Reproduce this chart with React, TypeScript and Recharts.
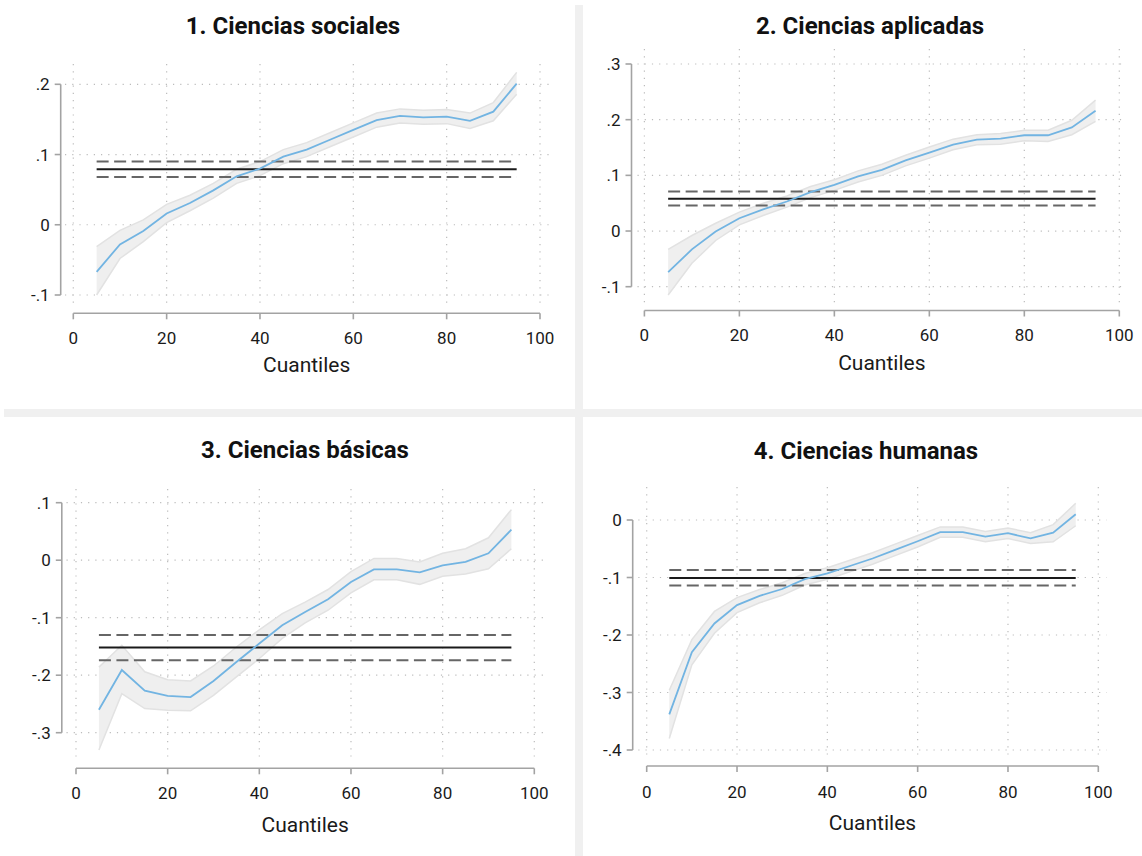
import React from "react";
import { ComposedChart, Area, Line, XAxis, YAxis, CartesianGrid, ReferenceLine } from "recharts";

// ---------- data ----------
const quantiles = [5, 10, 15, 20, 25, 30, 35, 40, 45, 50, 55, 60, 65, 70, 75, 80, 85, 90, 95];
const xTicks = [0, 20, 40, 60, 80, 100];
const xTickLabels = ["0", "20", "40", "60", "80", "100"];
const xAxisTitle = "Cuantiles";

// 1. Ciencias sociales
const socialesTitle = "1. Ciencias sociales";
const socialesEst = [-0.067, -0.028, -0.009, 0.016, 0.031, 0.049, 0.069, 0.080, 0.097, 0.107, 0.121, 0.135, 0.149, 0.155, 0.153, 0.154, 0.148, 0.161, 0.201];
const socialesLo = [-0.100, -0.048, -0.024, 0.003, 0.020, 0.038, 0.059, 0.070, 0.087, 0.097, 0.111, 0.125, 0.139, 0.145, 0.143, 0.144, 0.137, 0.148, 0.186];
const socialesHi = [-0.031, -0.008, 0.007, 0.029, 0.042, 0.059, 0.079, 0.090, 0.107, 0.117, 0.131, 0.145, 0.159, 0.165, 0.163, 0.164, 0.159, 0.174, 0.217];
const socialesRef = [0.068, 0.079, 0.090];
const socialesYTicks = [-0.1, 0, 0.1, 0.2];
const socialesYLabels = ["-.1", "0", ".1", ".2"];

// 2. Ciencias aplicadas
const aplicadasTitle = "2. Ciencias aplicadas";
const aplicadasEst = [-0.074, -0.033, -0.001, 0.023, 0.039, 0.053, 0.070, 0.083, 0.098, 0.110, 0.127, 0.141, 0.155, 0.164, 0.166, 0.172, 0.172, 0.186, 0.216];
const aplicadasLo = [-0.115, -0.058, -0.017, 0.011, 0.028, 0.043, 0.060, 0.073, 0.088, 0.100, 0.117, 0.131, 0.146, 0.155, 0.156, 0.162, 0.161, 0.173, 0.197];
const aplicadasHi = [-0.033, -0.008, 0.014, 0.034, 0.050, 0.063, 0.080, 0.092, 0.108, 0.120, 0.136, 0.151, 0.165, 0.173, 0.175, 0.181, 0.181, 0.199, 0.235];
const aplicadasRef = [0.046, 0.058, 0.071];
const aplicadasYTicks = [-0.1, 0, 0.1, 0.2, 0.3];
const aplicadasYLabels = ["-.1", "0", ".1", ".2", ".3"];

// 3. Ciencias básicas
const basicasTitle = "3. Ciencias básicas";
const basicasEst = [-0.260, -0.191, -0.227, -0.236, -0.238, -0.210, -0.177, -0.145, -0.113, -0.090, -0.068, -0.038, -0.016, -0.016, -0.021, -0.009, -0.003, 0.012, 0.053];
const basicasLo = [-0.330, -0.232, -0.258, -0.261, -0.262, -0.235, -0.203, -0.171, -0.136, -0.109, -0.087, -0.057, -0.034, -0.034, -0.042, -0.028, -0.024, -0.015, 0.020];
const basicasHi = [-0.186, -0.148, -0.194, -0.208, -0.210, -0.184, -0.151, -0.121, -0.093, -0.073, -0.051, -0.020, 0.003, 0.003, -0.003, 0.012, 0.020, 0.039, 0.088];
const basicasRef = [-0.174, -0.152, -0.130];
const basicasYTicks = [-0.3, -0.2, -0.1, 0, 0.1];
const basicasYLabels = ["-.3", "-.2", "-.1", "0", ".1"];

// 4. Ciencias humanas
const humanasTitle = "4. Ciencias humanas";
const humanasEst = [-0.338, -0.230, -0.180, -0.148, -0.132, -0.120, -0.103, -0.093, -0.080, -0.067, -0.052, -0.037, -0.021, -0.021, -0.029, -0.023, -0.032, -0.022, 0.010];
const humanasLo = [-0.380, -0.252, -0.197, -0.161, -0.144, -0.131, -0.113, -0.103, -0.090, -0.077, -0.062, -0.047, -0.030, -0.030, -0.038, -0.032, -0.041, -0.038, -0.010];
const humanasHi = [-0.296, -0.208, -0.159, -0.135, -0.121, -0.109, -0.093, -0.083, -0.070, -0.057, -0.042, -0.027, -0.012, -0.012, -0.020, -0.014, -0.022, -0.008, 0.029];
const humanasRef = [-0.114, -0.101, -0.087];
const humanasYTicks = [-0.4, -0.3, -0.2, -0.1, 0];
const humanasYLabels = ["-.4", "-.3", "-.2", "-.1", "0"];

// ---------- layout ----------
const W = 1142;
const H = 856;
const FONT = "Roboto, 'Liberation Sans', Arial, sans-serif";
const AXIS_COLOR = "#a3a3a3";
const TEXT_COLOR = "#1a1a1a";
const AX = 1; // tiny axis thickness so the axes are still rendered

type Layout = {
  x0: number; x100: number;
  gridLeft: number; gridRight: number; gridTop: number; gridBottom: number;
  yTopVal: number; yTopPx: number; yBotVal: number; yBotPx: number;
  yAxisX: number; xAxisY: number; xLabelY: number; xTitleY: number;
  titleX: number; titleY: number;
};

const layout1: Layout = {
  x0: 73.3, x100: 540, gridLeft: 65, gridRight: 550, gridTop: 64, gridBottom: 307,
  yTopVal: 0.2, yTopPx: 84.3, yBotVal: -0.1, yBotPx: 295,
  yAxisX: 60.7, xAxisY: 313.3, xLabelY: 337.5, xTitleY: 365, titleX: 293, titleY: 26,
};
const layout2: Layout = {
  x0: 644.4, x100: 1119.3, gridLeft: 637.5, gridRight: 1127, gridTop: 49, gridBottom: 303,
  yTopVal: 0.3, yTopPx: 64, yBotVal: -0.1, yBotPx: 286.7,
  yAxisX: 631.5, xAxisY: 310.5, xLabelY: 335, xTitleY: 363, titleX: 870, titleY: 26,
};
const layout3: Layout = {
  x0: 76, x100: 534.3, gridLeft: 66.5, gridRight: 543, gridTop: 489, gridBottom: 757,
  yTopVal: 0.1, yTopPx: 502.7, yBotVal: -0.3, yBotPx: 732.7,
  yAxisX: 61.8, xAxisY: 768.3, xLabelY: 793.3, xTitleY: 825, titleX: 305, titleY: 450,
};
const layout4: Layout = {
  x0: 646.7, x100: 1098.3, gridLeft: 638.3, gridRight: 1106.7, gridTop: 487, gridBottom: 758,
  yTopVal: 0, yTopPx: 520, yBotVal: -0.4, yBotPx: 750,
  yAxisX: 632.7, xAxisY: 766, xLabelY: 791.7, xTitleY: 823.3, titleX: 866, titleY: 451,
};

type PanelProps = {
  title: string; est: number[]; lo: number[]; hi: number[]; refs: number[];
  yTicks: number[]; yLabels: string[]; L: Layout;
};

// apply an axis scale whatever its shape (function, or object with map/apply)
function applyScale(s: any, v: number): number | null {
  if (!s) return null;
  if (typeof s === "function") return s(v);
  if (typeof s.map === "function") return s.map(v);
  if (typeof s.apply === "function") return s.apply(v);
  return null;
}

function Panel({ title, est, lo, hi, refs, yTicks, yLabels, L }: PanelProps) {
  const data = quantiles.map((q, i) => ({ q, est: est[i], band: [lo[i], hi[i]] }));
  const ppx = (L.x100 - L.x0) / 100;
  const xDomain = [(L.gridLeft - L.x0) / ppx, (L.gridRight - L.x0) / ppx];
  const ppy = (L.yBotPx - L.yTopPx) / (L.yTopVal - L.yBotVal);
  const yDomain = [L.yBotVal - (L.gridBottom - L.yBotPx) / ppy, L.yTopVal + (L.yTopPx - L.gridTop) / ppy];
  const yAxisXVal = (L.yAxisX - L.x0) / ppx;
  const xAxisYVal = L.yBotVal - (L.xAxisY - L.yBotPx) / ppy;

  const renderXTick = (p: any) => {
    const idx = xTicks.indexOf(p.payload.value);
    return (
      <g>
        <line x1={p.x} x2={p.x} y1={L.xAxisY} y2={L.xAxisY + 6} stroke={AXIS_COLOR} strokeWidth={1.6} />
        <text x={p.x} y={L.xLabelY} textAnchor="middle" dominantBaseline="central" fontSize={17} fontFamily={FONT} fill={TEXT_COLOR}>
          {xTickLabels[idx]}
        </text>
      </g>
    );
  };
  const renderYTick = (p: any) => {
    const idx = yTicks.indexOf(p.payload.value);
    return (
      <g>
        <line x1={L.yAxisX - 6} x2={L.yAxisX} y1={p.y} y2={p.y} stroke={AXIS_COLOR} strokeWidth={1.6} />
        <text x={L.yAxisX - 11} y={p.y} textAnchor="end" dominantBaseline="central" fontSize={17} fontFamily={FONT} fill={TEXT_COLOR}>
          {yLabels[idx]}
        </text>
      </g>
    );
  };

  // grid only at the tick values (no border lines), positions from the axis scale
  const hGen = (args: any) => {
    const off = args && args.offset;
    return yTicks
      .map((t) => {
        const v = applyScale(args && args.yAxis && args.yAxis.scale, t);
        if (v != null && !isNaN(v)) return v;
        return off ? off.top + ((yDomain[1] - t) / (yDomain[1] - yDomain[0])) * off.height : NaN;
      })
      .filter((v) => !isNaN(v));
  };
  const vGen = (args: any) => {
    const off = args && args.offset;
    return xTicks
      .map((t) => {
        const v = applyScale(args && args.xAxis && args.xAxis.scale, t);
        if (v != null && !isNaN(v)) return v;
        return off ? off.left + ((t - xDomain[0]) / (xDomain[1] - xDomain[0])) * off.width : NaN;
      })
      .filter((v) => !isNaN(v));
  };

  return (
    <>
      <div style={{ position: "absolute", left: 0, top: 0 }}>
        <ComposedChart
          width={W}
          height={H}
          data={data}
          margin={{ left: L.gridLeft - AX, right: W - L.gridRight, top: L.gridTop, bottom: H - L.gridBottom - AX }}
        >
          <CartesianGrid
            stroke="#bcbcbc" strokeWidth={1.2} strokeDasharray="1.2 6"
            horizontalCoordinatesGenerator={hGen} verticalCoordinatesGenerator={vGen}
          />
          <XAxis
            type="number" dataKey="q" domain={xDomain} allowDataOverflow ticks={xTicks} interval={0}
            height={AX} tickSize={0} tickMargin={0} axisLine={false} tickLine={false} tick={renderXTick}
          />
          <YAxis
            type="number" domain={yDomain} allowDataOverflow ticks={yTicks} interval={0}
            width={AX} tickSize={0} tickMargin={0} axisLine={false} tickLine={false} tick={renderYTick}
          />
          <Area
            type="linear" dataKey="band" fill="#efefef" fillOpacity={1} stroke="#e2e2e2" strokeWidth={1.5}
            isAnimationActive={false} activeDot={false}
          />
          <ReferenceLine segment={[{ x: quantiles[0], y: refs[0] }, { x: quantiles[quantiles.length - 1], y: refs[0] }]} stroke="#666666" strokeWidth={2} strokeDasharray="12 5.5" ifOverflow="visible" />
          <ReferenceLine segment={[{ x: quantiles[0], y: refs[2] }, { x: quantiles[quantiles.length - 1], y: refs[2] }]} stroke="#666666" strokeWidth={2} strokeDasharray="12 5.5" ifOverflow="visible" />
          <ReferenceLine segment={[{ x: quantiles[0], y: refs[1] }, { x: quantiles[quantiles.length - 1], y: refs[1] }]} stroke="#1a1a1a" strokeWidth={2} ifOverflow="visible" />
          <Line type="linear" dataKey="est" stroke="#72b4e2" strokeWidth={1.8} dot={false} activeDot={false} isAnimationActive={false} />
          <ReferenceLine segment={[{ x: yAxisXVal, y: yTicks[0] }, { x: yAxisXVal, y: yTicks[yTicks.length - 1] }]} stroke={AXIS_COLOR} strokeWidth={1.6} ifOverflow="visible" />
          <ReferenceLine segment={[{ x: xTicks[0], y: xAxisYVal }, { x: xTicks[xTicks.length - 1], y: xAxisYVal }]} stroke={AXIS_COLOR} strokeWidth={1.6} ifOverflow="visible" />
        </ComposedChart>
      </div>
      <div style={{ position: "absolute", left: L.titleX, top: L.titleY, transform: "translate(-50%, -50%)", whiteSpace: "nowrap", fontFamily: FONT, fontWeight: 700, fontSize: 24, color: "#111", lineHeight: 1 }}>
        {title}
      </div>
      <div style={{ position: "absolute", left: (L.x0 + L.x100) / 2, top: L.xTitleY, transform: "translate(-50%, -50%)", whiteSpace: "nowrap", fontFamily: FONT, fontSize: 21, color: TEXT_COLOR, lineHeight: 1 }}>
        {xAxisTitle}
      </div>
    </>
  );
}

export default function App() {
  return (
    <div style={{ position: "absolute", left: 0, top: 0, width: W, height: H, background: "#ffffff", overflow: "hidden" }}>
      <div style={{ position: "absolute", left: 575, top: 5, width: 8, height: H - 5, background: "#f0f0f0" }} />
      <div style={{ position: "absolute", left: 4, top: 409, width: W - 4, height: 8, background: "#f0f0f0" }} />
      <Panel title={socialesTitle} est={socialesEst} lo={socialesLo} hi={socialesHi} refs={socialesRef} yTicks={socialesYTicks} yLabels={socialesYLabels} L={layout1} />
      <Panel title={aplicadasTitle} est={aplicadasEst} lo={aplicadasLo} hi={aplicadasHi} refs={aplicadasRef} yTicks={aplicadasYTicks} yLabels={aplicadasYLabels} L={layout2} />
      <Panel title={basicasTitle} est={basicasEst} lo={basicasLo} hi={basicasHi} refs={basicasRef} yTicks={basicasYTicks} yLabels={basicasYLabels} L={layout3} />
      <Panel title={humanasTitle} est={humanasEst} lo={humanasLo} hi={humanasHi} refs={humanasRef} yTicks={humanasYTicks} yLabels={humanasYLabels} L={layout4} />
    </div>
  );
}
